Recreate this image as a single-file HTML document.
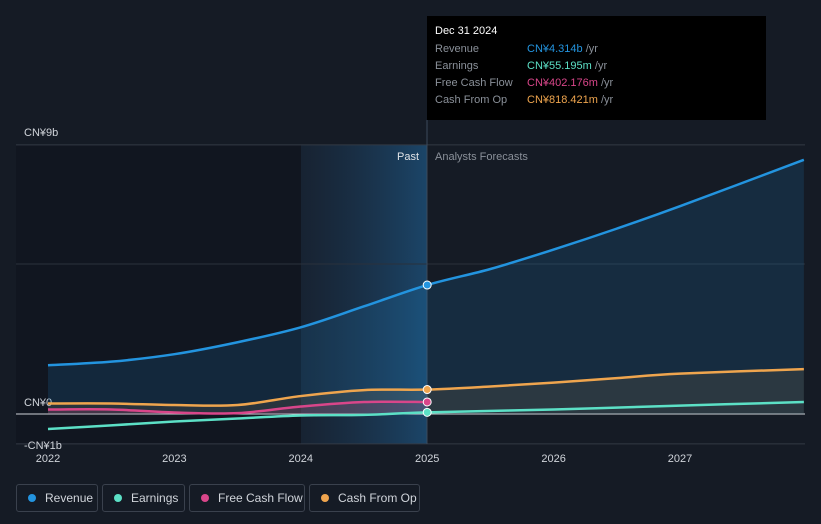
<!DOCTYPE html>
<html><head><meta charset="utf-8"><style>
body{margin:0;background:#151b25;font-family:"Liberation Sans","Noto Sans CJK SC",sans-serif;}
svg text{font-family:"Liberation Sans","Noto Sans CJK SC",sans-serif;}
.leg{position:absolute;top:484px;height:28px;border:1px solid #3a414d;border-radius:3px;color:#d0d4da;font-size:12px;line-height:26px;padding-left:11px;box-sizing:border-box;white-space:nowrap}
.leg i{display:inline-block;width:8px;height:8px;border-radius:50%;margin-right:9px;vertical-align:0px}
</style></head><body>
<div style="position:relative;width:821px;height:524px;overflow:hidden">
<svg id="c" width="821" height="524" style="position:absolute;left:0;top:0"></svg>
<div class="leg" style="left:16px;width:82px"><i style="background:#2394df"></i>Revenue</div>
<div class="leg" style="left:102px;width:83px"><i style="background:#5ce0c6"></i>Earnings</div>
<div class="leg" style="left:189px;width:116px"><i style="background:#d9468a"></i>Free Cash Flow</div>
<div class="leg" style="left:309px;width:111px"><i style="background:#efa54e"></i>Cash From Op</div>
<div style="position:absolute;left:427px;top:16px;width:339px;height:104px;background:#000;font-size:11px;color:#8a9099">
<div style="position:absolute;left:8px;top:9px;color:#fff;font-size:11px">Dec 31 2024</div>
<div style="position:absolute;left:8px;top:27px">Revenue</div><div style="position:absolute;left:100px;top:27px"><span style="color:#2394df">CN¥4.314b</span> /yr</div>
<div style="position:absolute;left:8px;top:44px">Earnings</div><div style="position:absolute;left:100px;top:44px"><span style="color:#5ce0c6">CN¥55.195m</span> /yr</div>
<div style="position:absolute;left:8px;top:61px">Free Cash Flow</div><div style="position:absolute;left:100px;top:61px"><span style="color:#d9468a">CN¥402.176m</span> /yr</div>
<div style="position:absolute;left:8px;top:78px">Cash From Op</div><div style="position:absolute;left:100px;top:78px"><span style="color:#efa54e">CN¥818.421m</span> /yr</div>
</div>
</div>
<script>
const revYears=[2022,2022.5,2023,2023.5,2024,2024.5,2025,2025.5,2026,2026.5,2027,2027.98];
const revVals=[1.63,1.75,2.0,2.4,2.9,3.6,4.314,4.85,5.5,6.2,6.95,8.5];
const cfoYears=[2022,2022.5,2023,2023.5,2024,2024.5,2025,2025.5,2026,2026.5,2027,2027.98];
const cfoVals=[0.35,0.35,0.3,0.3,0.6,0.8,0.818,0.92,1.05,1.2,1.35,1.5];
const fcfYears=[2022,2022.5,2023,2023.5,2024,2024.5,2025];
const fcfVals=[0.15,0.15,0.05,0.03,0.25,0.4,0.402];
const earnYears=[2022,2022.5,2023,2023.5,2024,2024.5,2025,2026,2027,2027.98];
const earnVals=[-0.5,-0.38,-0.25,-0.15,-0.05,-0.03,0.055,0.15,0.28,0.4];
const yTicks=[9,0,-1];const yLabels=["CN¥9b","CN¥0","-CN¥1b"];
const xTicks=[2022,2023,2024,2025,2026,2027];
const X=y=>48+(y-2022)*126.4, Y=v=>414-v*29.9;
const s=document.getElementById('c'),NS='http://www.w3.org/2000/svg';
function el(t,a,p){const e=document.createElementNS(NS,t);for(const k in a)e.setAttribute(k,a[k]);(p||s).appendChild(e);return e;}
const defs=el('defs',{});
const g=el('linearGradient',{id:'pg',x1:0,x2:1,y1:0,y2:0},defs);
el('stop',{offset:0,'stop-color':'#1c3550','stop-opacity':0.3},g);el('stop',{offset:1,'stop-color':'#1c4a70','stop-opacity':0.9},g);
const bg=el('rect',{x:16,y:145,width:285,height:299,fill:'#111620'});
const pr=el('rect',{x:301,y:145,width:126,height:299,fill:'url(#pg)'});
yTicks.forEach((t,i)=>{const l=el('line',{x1:16,x2:805,y1:Y(t),y2:Y(t),stroke:t==0?'#cfd3d8':'#333a45','stroke-width':1});
const tx=el('text',{x:24,y:Y(t)-(t==9?9:(t==0?8:-5)),fill:'#d0d4da','font-size':11});tx.textContent=yLabels[i];});
const mg=el('line',{x1:16,x2:805,y1:264,y2:264,stroke:'#2a313c'});
const vl=el('line',{x1:427,x2:427,y1:120,y2:444,stroke:'#3b4a5c'});
xTicks.forEach(t=>{const tx=el('text',{x:X(t),y:462,fill:'#d0d4da','font-size':11,'text-anchor':'middle'});tx.textContent=t;});
let t1=el('text',{x:419,y:160,fill:'#e0e3e7','font-size':11,'text-anchor':'end'});t1.textContent='Past';
let t2=el('text',{x:435,y:160,fill:'#8a9099','font-size':11});t2.textContent='Analysts Forecasts';
function smooth(pts){let d='M'+pts[0].join(',');for(let i=0;i<pts.length-1;i++){const p0=pts[i-1]||pts[i],p1=pts[i],p2=pts[i+1],p3=pts[i+2]||p2;
 d+=`C${p1[0]+(p2[0]-p0[0])/6},${p1[1]+(p2[1]-p0[1])/6} ${p2[0]-(p3[0]-p1[0])/6},${p2[1]-(p3[1]-p1[1])/6} ${p2[0]},${p2[1]}`;}return d;}
function series(xs,vs,col,name,fillOp){
 const pts=xs.map((x,i)=>[X(x),Y(vs[i])]);
 const d=smooth(pts);
 if(fillOp){const a=el('path',{d:d+`L${pts[pts.length-1][0]},${Y(0)}L${pts[0][0]},${Y(0)}Z`,fill:col,'fill-opacity':fillOp});}
 const p=el('path',{d:d,fill:'none',stroke:col,'stroke-width':2.5});
 const i=xs.indexOf(2025);if(i>=0){const c=el('circle',{cx:X(2025),cy:Y(vs[i]),r:4,fill:col,stroke:'#fff','stroke-width':1});}
}
series(revYears,revVals,'#2394df','revenue',0.15);
series(cfoYears,cfoVals,'#efa54e','cash-from-op',0.1);
series(fcfYears,fcfVals,'#d9468a','free-cash-flow',0.15);
series(earnYears,earnVals,'#5ce0c6','earnings',0);
</script>
</body></html>
